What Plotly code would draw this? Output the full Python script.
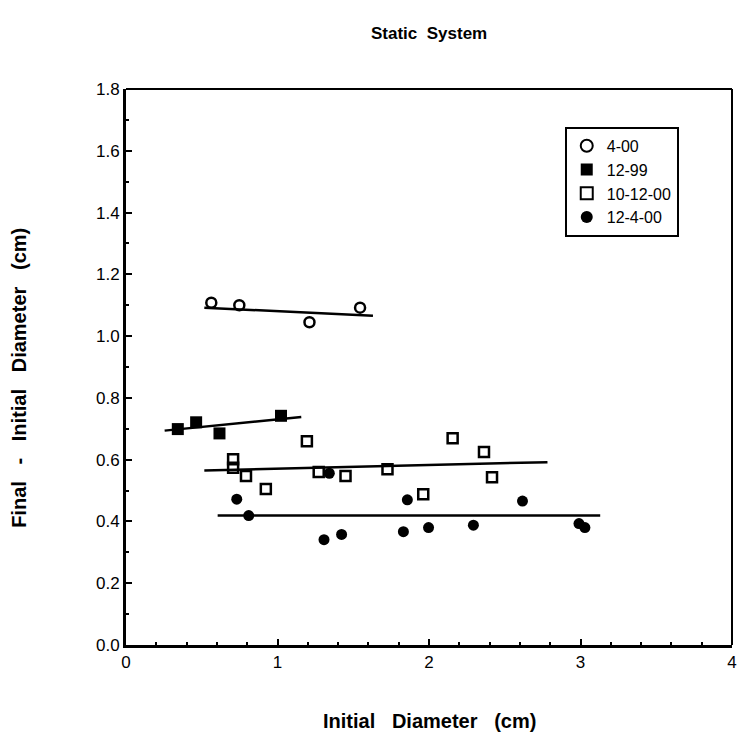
import plotly.graph_objects as go

# ---- data ----
x_400 = [0.563, 0.748, 1.211, 1.545]
y_400 = [1.108, 1.100, 1.045, 1.092]
fit_x_400 = [0.517, 1.630]
fit_y_400 = [1.092, 1.066]

x_1299 = [0.342, 0.463, 0.617, 1.023]
y_1299 = [0.699, 0.721, 0.685, 0.742]
fit_x_1299 = [0.255, 1.157]
fit_y_1299 = [0.694, 0.738]

x_101200 = [0.707, 0.707, 0.792, 0.923, 1.194, 1.272, 1.449, 1.726, 1.962, 2.156, 2.363, 2.416]
y_101200 = [0.601, 0.574, 0.547, 0.505, 0.660, 0.560, 0.547, 0.569, 0.488, 0.669, 0.625, 0.543]
fit_x_101200 = [0.517, 2.782]
fit_y_101200 = [0.565, 0.592]

x_12400 = [0.731, 0.810, 1.307, 1.342, 1.423, 1.831, 1.857, 1.997, 2.293, 2.617, 2.990, 3.029]
y_12400 = [0.472, 0.419, 0.341, 0.556, 0.358, 0.367, 0.470, 0.380, 0.388, 0.466, 0.393, 0.380]
fit_x_12400 = [0.605, 3.130]
fit_y_12400 = [0.419, 0.419]

x_ticks = [0, 1, 2, 3, 4]
y_ticks = [0.0, 0.2, 0.4, 0.6, 0.8, 1.0, 1.2, 1.4, 1.6, 1.8]

FONT = "Liberation Sans, Arial, sans-serif"
SP = "\u00a0\u00a0\u00a0"

fig = go.Figure()

series = [
    ("4-00", x_400, y_400, fit_x_400, fit_y_400, dict(symbol="circle-open", size=10, line=dict(width=2.5, color="black"), color="black")),
    ("12-99", x_1299, y_1299, fit_x_1299, fit_y_1299, dict(symbol="square", size=12, color="black")),
    ("10-12-00", x_101200, y_101200, fit_x_101200, fit_y_101200, dict(symbol="square-open", size=10, line=dict(width=2.5, color="black"), color="black")),
    ("12-4-00", x_12400, y_12400, fit_x_12400, fit_y_12400, dict(symbol="circle", size=11, color="black")),
]

for name, xs, ys, fx, fy, mk in series:
    fig.add_trace(go.Scatter(x=fx, y=fy, mode="lines", line=dict(color="black", width=2.5),
                             showlegend=False, hoverinfo="skip"))
for name, xs, ys, fx, fy, mk in series:
    fig.add_trace(go.Scatter(x=xs, y=ys, mode="markers", name=name, marker=mk))

fig.update_layout(
    width=746, height=740,
    margin=dict(l=126, r=9, t=89, b=95),
    paper_bgcolor="white", plot_bgcolor="white",
    font=dict(family=FONT, color="black", size=17),
    showlegend=True,
    legend=dict(x=0.724, y=0.932, xanchor="left", yanchor="top",
                bgcolor="white", bordercolor="black", borderwidth=2,
                font=dict(size=16, family=FONT), tracegroupgap=0, itemwidth=30,
                itemsizing="constant"),
)

fig.update_xaxes(range=[0, 4], tickvals=x_ticks, ticktext=[str(v) for v in x_ticks],
                 ticks="inside", ticklen=6, tickwidth=2, tickcolor="black",
                 showline=True, linewidth=3, linecolor="black", showgrid=False, zeroline=False,
                 minor=dict(dtick=0.2, ticks="inside", ticklen=3, tickwidth=2, tickcolor="black", showgrid=False),
                 tickfont=dict(size=17))
fig.update_yaxes(range=[0, 1.8], tickvals=y_ticks, ticktext=[f"{v:.1f}" for v in y_ticks],
                 ticks="inside", ticklen=6, tickwidth=2, tickcolor="black",
                 showline=True, linewidth=3, linecolor="black", showgrid=False, zeroline=False,
                 minor=dict(dtick=0.1, ticks="inside", ticklen=3, tickwidth=2, tickcolor="black", showgrid=False),
                 tickfont=dict(size=17))

# top and right frame lines
fig.add_shape(type="line", xref="paper", yref="paper", x0=0, x1=1, y0=1, y1=1, line=dict(color="black", width=2))
fig.add_shape(type="line", xref="paper", yref="paper", x0=1, x1=1, y0=0, y1=1, line=dict(color="black", width=2))

fig.add_annotation(text="<b>Static\u00a0\u00a0System</b>", xref="paper", yref="paper", x=0.5, y=1.10,
                   showarrow=False, font=dict(size=17, family=FONT),
                   xanchor="center", yanchor="middle")
fig.add_annotation(text=f"<b>Initial{SP}Diameter{SP}(cm)</b>", xref="paper", yref="paper", x=0.5, y=-0.136,
                   showarrow=False, font=dict(size=20, family=FONT), xanchor="center", yanchor="middle")
fig.add_annotation(text=f"<b>Final{SP}-{SP}Initial{SP}Diameter{SP}(cm)</b>", xref="paper", yref="paper",
                   x=-0.177, y=0.48, textangle=-90,
                   showarrow=False, font=dict(size=20, family=FONT), xanchor="center", yanchor="middle")

fig.write_html("out.html")
